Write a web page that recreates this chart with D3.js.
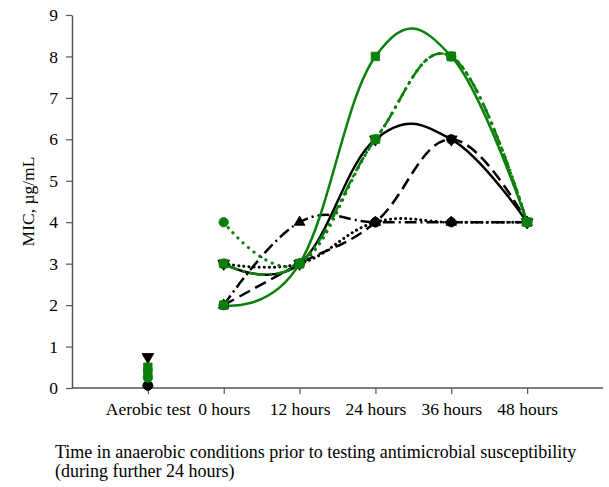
<!DOCTYPE html>
<html>
<head>
<meta charset="utf-8">
<script src="https://cdn.jsdelivr.net/npm/d3@7"></script>
<style>
  body { margin: 0; background: #fff; }
  svg { display: block; font-family: "Liberation Serif", "Times New Roman", serif; }
</style>
</head>
<body>
<svg id="chart" width="609" height="487"></svg>
<script>
// ---- data ----
const categories = ["Aerobic test", "0 hours", "12 hours", "24 hours", "36 hours", "48 hours"];
const yTicks = [0, 1, 2, 3, 4, 5, 6, 7, 8, 9];
// first value = aerobic test (marker only), remaining = anaerobic time course
const blackSolid    = [0.75, 3, 3, 6, 6, 4];
const blackDashed   = [0.06, 2, 3, 4, 6, 4];
const blackDashDot  = [0.12, 2, 4, 4, 4, 4];
const blackDotted   = [0.06, 3, 3, 4, 4, 4];
const greenSolid    = [0.5, 2, 3, 8, 8, 4];
const greenDashDot  = [0.375, 3, 3, 6, 8, 4];
const greenDotted   = [0.25, 4, 3, 6, 8, 4];

const yTitle = "MIC, µg/mL";
const xTitle1 = "Time in anaerobic conditions prior to testing antimicrobial susceptibility";
const xTitle2 = "(during further 24 hours)";

// ---- styles ----
const styles = [
  { values: blackSolid,   color: "#000", dash: null,          width: 2.5, cap: "butt",  marker: "triangleDown", msize: 60 },
  { values: blackDashDot, color: "#000", dash: "12,4,2,4",    width: 2.5, cap: "butt",  marker: "triangle", msize: 50 },
  { values: blackDashed,  color: "#000", dash: "12,6",        width: 2.5, cap: "butt",  marker: "circle", msize: 70 },
  { values: blackDotted,  color: "#000", dash: "0.1,5",       width: 3,   cap: "round", marker: "circle", msize: 70 },
  { values: greenDotted,  color: "#0a800a", dash: "0.1,7",    width: 3.2, cap: "round", marker: "circle", msize: 70 },
  { values: greenDashDot, color: "#0a800a", dash: "16,4,3,4", width: 2.5, cap: "butt",  marker: "square", msize: 72 },
  { values: greenSolid,   color: "#0a800a", dash: null,       width: 2.5, cap: "butt",  marker: "square", msize: 72 }
];

const svg = d3.select("#chart");
const xLeft = 72, xRight = 603, yBottom = 388, yTop = 15;

const x = d3.scalePoint().domain(["_start", ...categories, "_end"]).range([xLeft, xRight]);
const y = d3.scaleLinear().domain([0, 9]).range([yBottom, yTop]);

// axes
const xAxis = d3.axisBottom(x).tickValues(categories).tickSize(6).tickSizeOuter(0).tickPadding(9);
const gx = svg.append("g").attr("transform", `translate(0,${yBottom})`).call(xAxis);
gx.select(".domain").attr("stroke", "#555").attr("stroke-width", 1.5).attr("d", `M${xLeft},0H${xRight}`);
gx.selectAll(".tick line").attr("stroke", "#555").attr("stroke-width", 1.2);
gx.selectAll(".tick text").attr("font-size", 17.5).attr("fill", "#000")
  .attr("font-family", "Liberation Serif, Times New Roman, serif");

const yAxis = d3.axisLeft(y).tickValues(yTicks).tickSize(6).tickSizeOuter(0).tickPadding(8);
const gy = svg.append("g").attr("transform", `translate(${xLeft},0)`).call(yAxis);
gy.select(".domain").attr("stroke", "#555").attr("stroke-width", 1.5);
gy.selectAll(".tick line").attr("stroke", "#555").attr("stroke-width", 1.2);
gy.selectAll(".tick text").attr("font-size", 17.5).attr("fill", "#000")
  .attr("font-family", "Liberation Serif, Times New Roman, serif");

// titles
svg.append("text").attr("transform", `translate(34,${(yTop + yBottom) / 2}) rotate(-90)`)
  .attr("text-anchor", "middle").attr("font-size", 17.5).text(yTitle);
svg.append("text").attr("x", 55).attr("y", 458).attr("font-size", 18).text(xTitle1);
svg.append("text").attr("x", 55).attr("y", 477).attr("font-size", 18).text(xTitle2);

// lines
const timeCats = categories.slice(1);
const line = d3.line()
  .x(d => x(d.cat)).y(d => y(d.v))
  .curve(d3.curveCardinal.tension(-0.2));

const plot = svg.append("g");
styles.forEach(s => {
  const pts = timeCats.map((c, i) => ({ cat: c, v: s.values[i + 1] }));
  plot.append("path").datum(pts)
    .attr("d", line).attr("fill", "none")
    .attr("stroke", s.color).attr("stroke-width", s.width)
    .attr("stroke-dasharray", s.dash).attr("stroke-linecap", s.cap);
});

// markers
const symType = {
  circle: d3.symbolCircle, square: d3.symbolSquare,
  triangle: d3.symbolTriangle, triangleDown: d3.symbolTriangle
};
styles.forEach(s => {
  const pts = categories.map((c, i) => ({ cat: c, v: s.values[i] }));
  const gen = d3.symbol().type(symType[s.marker]).size(s.msize);
  plot.append("g").selectAll("path").data(pts).join("path")
    .attr("d", gen)
    .attr("transform", d => `translate(${x(d.cat)},${y(d.v)})` + (s.marker === "triangleDown" ? " rotate(180)" : ""))
    .attr("fill", s.color).attr("stroke", s.color).attr("stroke-width", 0.8)
    .attr("stroke-linejoin", "round");
});
</script>
</body>
</html>
